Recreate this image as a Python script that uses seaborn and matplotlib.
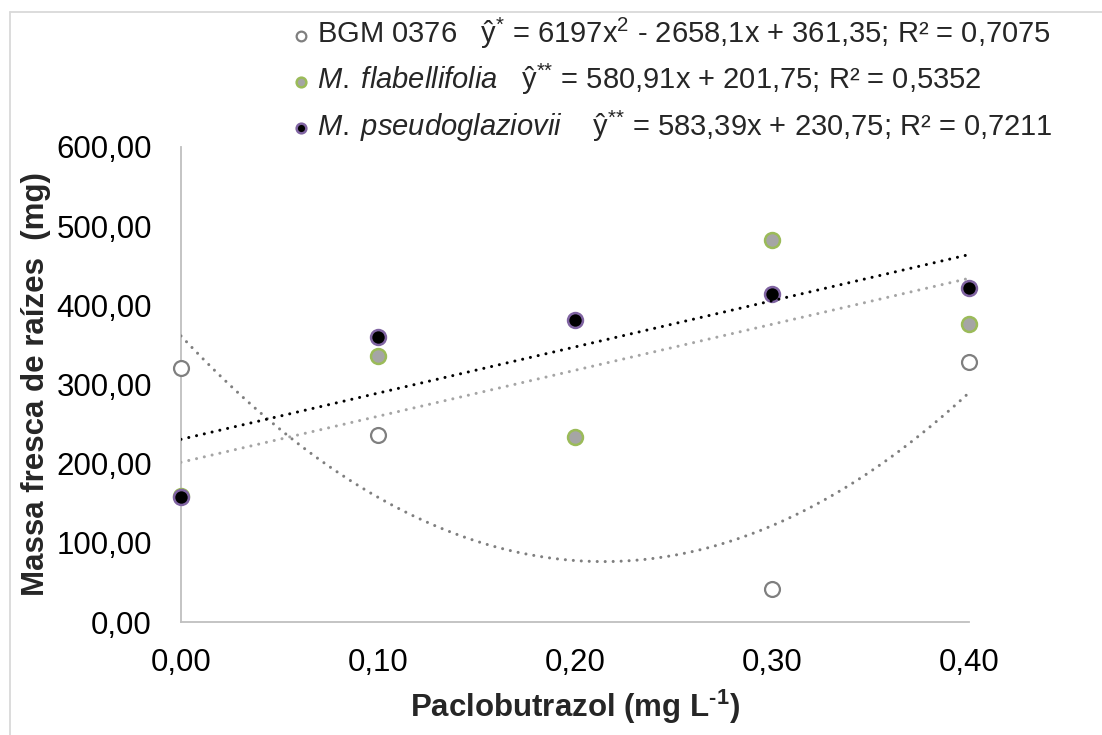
import numpy as np
import pandas as pd
import matplotlib
matplotlib.use("Agg")
import matplotlib.pyplot as plt
from matplotlib.lines import Line2D
from matplotlib.ticker import FixedLocator, FuncFormatter
import seaborn as sns

# ---- data ----
doses = [0.0, 0.1, 0.2, 0.3, 0.4]
bgm_0376 = [321.2, 236.2, np.nan, 41.3, 328.4]
m_flabellifolia = [159.2, 336.4, 233.7, 482.1, 376.8]
m_pseudoglaziovii = [158.3, 360.4, 381.5, 414.7, 422.3]

coef_bgm = [6197, -2658.1, 361.35]
coef_flab = [580.91, 201.75]
coef_pseudo = [583.39, 230.75]

label_bgm = "BGM 0376   ŷ$^{{*}}$ = 6197x$^{2}$ - 2658,1x + 361,35; R² = 0,7075"
label_flab = r"$\it{M.\;flabellifolia}$" + "   ŷ$^{{*}{*}}$ = 580,91x + 201,75; R² = 0,5352"
label_pseudo = r"$\it{M.\;pseudoglaziovii}$" + "    ŷ$^{{*}{*}}$ = 583,39x + 230,75; R² = 0,7211"

x_ticks = [0.0, 0.1, 0.2, 0.3, 0.4]
y_ticks = [0, 100, 200, 300, 400, 500, 600]
x_label = r"Paclobutrazol (mg L$^{\mathbf{‐1}}$)"
y_label = "Massa fresca de raízes  (mg)"

# ---- style ----
sns.set_theme(style="white")
plt.rcParams["font.family"] = ["Liberation Sans", "DejaVu Sans"]
plt.rcParams["mathtext.fontset"] = "custom"
plt.rcParams["mathtext.rm"] = "Liberation Sans"
plt.rcParams["mathtext.it"] = "Liberation Sans:italic"
plt.rcParams["mathtext.bf"] = "Liberation Sans:bold"
plt.rcParams["mathtext.default"] = "regular"

W, H = 1102, 735
fig = plt.figure(figsize=(W / 100, H / 100), dpi=100)
x0, x1, y0, y1 = 181, 969, 622, 147
ax = fig.add_axes([x0 / W, 1 - y0 / H, (x1 - x0) / W, (y0 - y1) / H])

FS = 22.5
FS_LEG = 21

sns.scatterplot(x=doses, y=bgm_0376, ax=ax, s=115, color="white",
                edgecolor="#7F7F7F", linewidth=1.6, label=label_bgm,
                clip_on=False, zorder=3)
sns.scatterplot(x=doses, y=m_flabellifolia, ax=ax, s=115, color="#A5A5A5",
                edgecolor="#9BBB59", linewidth=1.8, label=label_flab,
                clip_on=False, zorder=3)
sns.scatterplot(x=doses, y=m_pseudoglaziovii, ax=ax, s=115, color="black",
                edgecolor="#8064A2", linewidth=1.8, label=label_pseudo,
                clip_on=False, zorder=3)

xs = np.linspace(min(doses), max(doses), 300)
dot = (0, (0.01, 2.6))
for coef, col in [(coef_bgm, "#7F7F7F"), (coef_flab, "#A5A5A5"),
                  (coef_pseudo, "black")]:
    sns.lineplot(x=xs, y=np.polyval(coef, xs), ax=ax, color=col,
                 linewidth=2.2, linestyle=dot, dash_capstyle="round",
                 zorder=4, legend=False)

ax.set_xlim(0, 0.4)
ax.set_ylim(0, 600)
ax.xaxis.set_major_locator(FixedLocator(x_ticks))
ax.yaxis.set_major_locator(FixedLocator(y_ticks))
ax.xaxis.set_major_formatter(FuncFormatter(lambda v, p: f"{v:.2f}".replace(".", ",")))
ax.yaxis.set_major_formatter(FuncFormatter(lambda v, p: f"{v:.2f}".replace(".", ",")))
ax.tick_params(axis="both", length=0, labelsize=FS, colors="black")
ax.tick_params(axis="x", pad=19)
ax.tick_params(axis="y", pad=21)
for s in ["top", "right"]:
    ax.spines[s].set_visible(False)
for s in ["left", "bottom"]:
    ax.spines[s].set_color("#BFBFBF")
    ax.spines[s].set_linewidth(1.3)
ax.grid(False)

ax.set_xlabel(x_label, fontsize=FS, fontweight="bold", labelpad=7)
ax.set_ylabel(y_label, fontsize=FS, fontweight="bold", labelpad=4)

handles, labels = ax.get_legend_handles_labels()
if ax.legend_:
    ax.legend_.remove()
fig.legend(handles, labels, loc="upper left",
           bbox_to_anchor=(294 / W, 1 - 16 / H), frameon=False,
           fontsize=FS_LEG, markerscale=0.65, handlelength=0.5,
           handletextpad=0.3, labelspacing=0.38, borderpad=0,
           borderaxespad=0)

# chart-area border (top and left visible)
fig.add_artist(Line2D([10 / W, 1], [1 - 11.5 / H] * 2, transform=fig.transFigure,
                      color="#D9D9D9", lw=1.3))
fig.add_artist(Line2D([10 / W] * 2, [0, 1 - 11.5 / H], transform=fig.transFigure,
                      color="#D9D9D9", lw=1.3))

fig.savefig("out.png", dpi=100, facecolor="white")
